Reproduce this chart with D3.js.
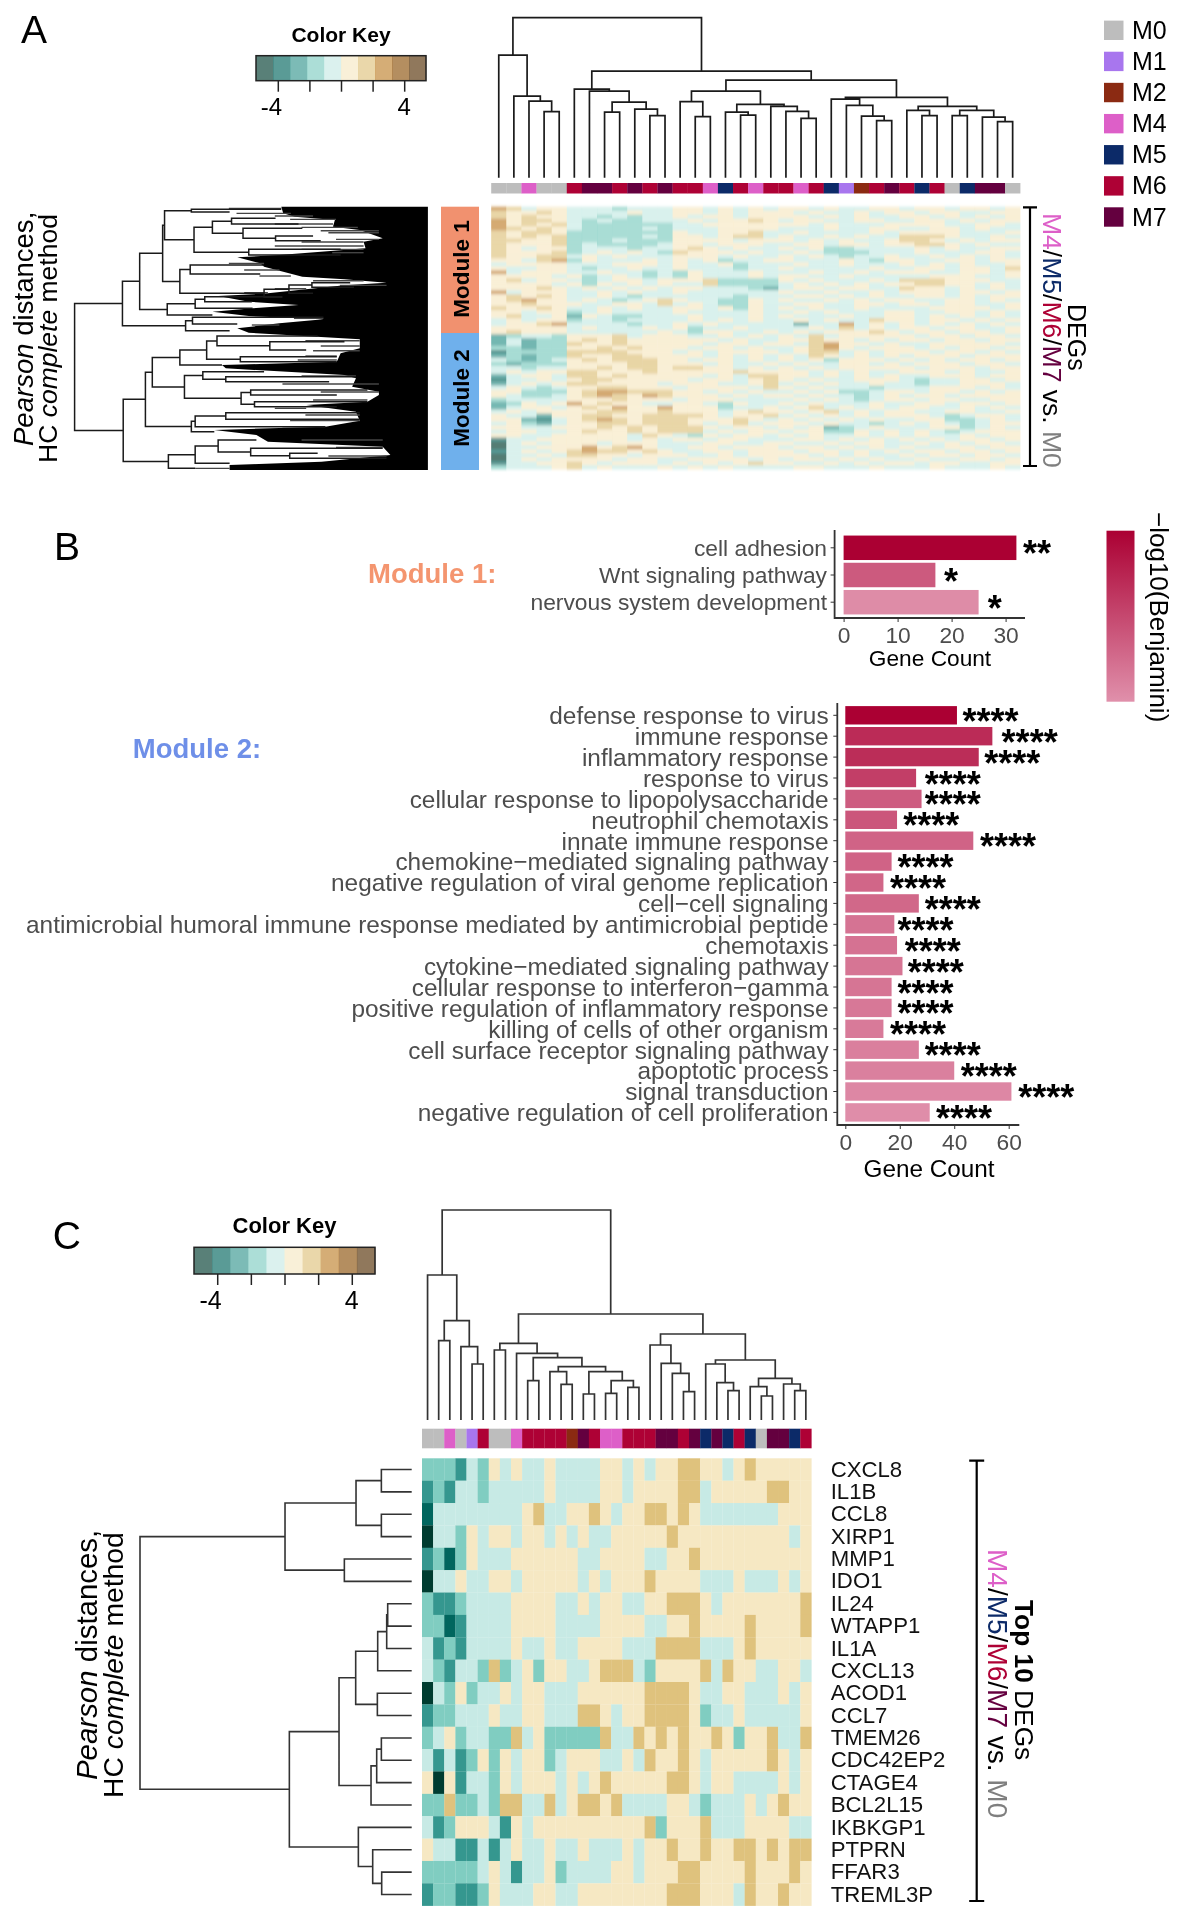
<!DOCTYPE html>
<html>
<head>
<meta charset="utf-8">
<script src="https://cdn.jsdelivr.net/npm/d3@7"></script>
<style>
body { margin: 0; background: white; }
svg { filter: blur(0.45px); }
text { font-family: "Liberation Sans", Arial, sans-serif; white-space: pre; }
</style>
</head>
<body>
<div id="chart"></div>
<script>
// ---- data ----
const brbg = ["#003c30", "#01665e", "#35978f", "#80cdc1", "#c7eae5", "#f6e8c3", "#dfc27d", "#bf812d", "#8c510a", "#543005"];
const legendNames = ["M0", "M1", "M2", "M4", "M5", "M6", "M7"];
const legendColors = ["#bdbdbd", "#a876ee", "#8b2a12", "#dd5fc8", "#0c2a68", "#ae0135", "#64003f"];

const colTypesA = ["M0","M0","M4","M0","M0","M6","M7","M7","M6","M7","M6","M7","M6","M6","M4","M5","M6","M4","M6","M6","M4","M6","M5","M1","M2","M6","M7","M6","M5","M6","M0","M5","M7","M7","M0"];
const colTypesC = ["M0","M0","M4","M0","M1","M6","M0","M0","M4","M6","M6","M6","M6","M2","M7","M6","M4","M4","M6","M6","M6","M7","M7","M6","M7","M5","M7","M5","M6","M5","M0","M7","M7","M5","M6"];

// dendrograms: [height, left, right], a number is a column/row index
const colTreeA = [480,
  [368, 0, [245, 1, [230, 2, [198, 3, 4]]]],
  [320,
    [266, 5, [260, 6, [227, [197, 7, 8], [206, 9, [186, 10, 11]]]]],
    [293,
      [260,
        [228, 12, [183, 13, 14]],
        [220, [197, 15, [188, 16, 17]], [214, 18, [199, 19, [178, 20, 21]]]]],
      [241,
        [236, 22, [217, 23, [185, 24, [171, 25, 26]]]],
        [214, [202, 27, [186, 28, 29]], [202, [186, 30, 31], [182, 32, [168, 33, 34]]]]]]]];

const colTreeC = [630,
  [435, 0, [298, [238, 1, 2], [220, 3, [168, 4, 5]]]],
  [318,
    [230, [210, 6, 7],
      [200, 8, [187, [118, 9, 10],
        [160, [145, 11, [107, 12, 13]],
          [145, [78, 14, 15], [118, [80, 16, 17], [98, 18, 19]]]]]]],
    [258,
      [225, 20, [170, 21, [140, 22, [85, 23, 24]]]],
      [180, [168, 25, [112, 26, [88, 27, 28]]],
        [125, [100, 29, [72, 30, 31]], [108, 32, [88, 33, 34]]]]]]];

const rowTreeC = [815,
  [380, [167, [91, 0, 1], [91, 2, 3]], [202, 4, 5]],
  [367,
    [218,
      [168, [102, [75, [72, 6, 7], 8], 9], [103, 10, 11]],
      [122, [105, [91, 12, 13], 14], 15]],
    [160, 16, [117, 17, [90, 18, 19]]]]];

// module-level row tree of panel A; a two-number leaf is [row position, height where it enters the dense part]
const rowTreeA = [923,
  [798,
    [753,
      [693,
        [688,
          [618, [8, 383], [16, 518]],
          [611,
            [563, [513, [35, 398], [52, 338]], [483, [65, 328], [398, [88, 300], [102, 280]]]],
            [468, [128, 228], [145, 228]]]],
        [648,
          [621, [175, 428], [202, 438]],
          [428, [363, [303, [228, 203], [242, 193]], [260, 300]], [272, 380]]]],
      [681,
        [608, [583, [270, 380], [285, 460]], [305, 458]],
        [325, 563]]],
    [633,
      [615, [332, 273], [352, 498]],
      [372, 518]]],
  [796,
    [738,
      [720,
        [648,
          [578,
            [551, [388, 288], [413, [405, 218], [430, 318]]],
            [490, [450, 238], [465, 238]]],
          [475, 538]],
        [636,
          [588, [495, 428], [528, [510, 188], [525, 258]]],
          [488, [463, [550, 158], [565, 238]], [453, [585, 158], [600, 238]]]]],
      [618,
        [608, [528, [618, 178], [638, 178]], [660, 268]],
        [675, 558]]],
    [678,
      [608,
        [548, [700, 448], [463, [725, 118], [361, [740, 288], [755, 108]]]],
        [770, 518]],
      [785, 608]]]];

// outline of the part of the row tree of panel A that prints solid: [row position, height]
const rowSolidA = [[0,383],[20,378],[30,348],[40,243],[60,248],[70,178],[95,118],[105,168],[125,163],[145,388],[152,498],[170,438],[180,428],[195,378],[210,328],[218,218],[228,108],[236,218],[250,338],[260,418],[268,548],[285,468],[295,338],[305,458],[315,563],[328,468],[338,273],[350,388],[365,498],[378,468],[398,178],[425,178],[440,228],[465,238],[475,538],[485,528],[505,218],[515,188],[540,198],[555,128],[565,128],[585,158],[595,318],[615,188],[642,178],[660,268],[670,558],[685,448],[705,418],[720,118],[745,98],[765,278],[775,518],[790,518]];
// thin grey branches just outside the solid part: [row position, height from, height to]
const rowStreaksA = [[5,520,383],[20,500,358],[28,400,300],[38,360,240],[52,400,248],[62,330,183],[72,280,128],[78,260,128],[98,240,128],[106,330,168],[118,400,168],[128,330,168],[138,250,168],[170,520,428],[190,480,388],[208,440,358],[222,300,168],[236,230,108],[246,400,318],[258,480,418],[335,350,273],[355,460,388],[402,320,178],[418,280,178],[432,300,178],[448,320,238],[460,340,238],[508,330,188],[532,380,128],[556,280,128],[580,300,158],[605,400,318],[625,320,178],[642,360,178],[660,380,268],[700,330,118],[722,240,118],[748,260,108],[785,608,518]];

// panel A matrix, colour bin per row band and column
const heatA = [
"76455 4443444 5545454 55454455 45545545",
"65565 4444544 5545455 54544545 54554455",
"65655 4434344 5455455 55454544 55454545",
"75665 4343344 4545565 45544554 45545455",
"75656 4333333 4455555 55454445 55544554",
"76565 4333343 4445555 44454455 44554544",
"65665 3333333 5445564 45444454 55554445",
"65656 3333343 5545664 54454544 66654454",
"66556 3334333 5555455 54545445 66545455",
"65556 3433334 5545554 45545545 56654544",
"65455 3444344 5654544 54533444 45454455",
"65556 3454543 6555454 45433344 45444554",
"65566 4545444 5554544 54543445 44545454",
"55467 3544454 5453445 54445435 54455455",
"45555 4445554 5445344 45445444 54545445",
"54455 4344544 5444344 54444454 45545546",
"74555 4454434 3544454 44544545 55445545",
"55554 5345434 3544454 55445444 44555445",
"56455 4345545 5563333 54544454 66655544",
"55554 5354545 4463333 45454545 56655454",
"55565 4545454 5544432 45545544 65545454",
"74555 4454544 5444444 54454454 55545545",
"56565 4454344 4444344 45545454 45545455",
"56755 4543456 5443354 54454545 54455454",
"55655 5445546 4543354 45544554 55455445",
"65565 4454544 5545354 54544544 44555545",
"55455 3454444 5444454 45454445 54455454",
"56445 2543344 4544454 54445445 54545454",
"45455 3443444 4545454 45454465 54554545",
"45567 4444344 5454444 42447454 54545454",
"55555 4544454 5344544 44546454 55455445",
"56555 4444445 4355445 45455565 45545545",
"23443 5556455 5445454 54645555 54554554",
"24233 5656555 5554544 55655454 55455455",
"24233 6556555 5545545 54675545 44555554",
"33233 5565655 5455454 45675455 54545545",
"13333 6666555 4545555 45664545 55455454",
"23233 6556655 5545454 54654545 45554555",
"43234 5656665 5455454 54535554 54545545",
"32333 5555665 5545445 45445545 45554554",
"44344 5565665 6655454 54545555 54555455",
"45455 6655565 5555655 55454544 55545445",
"24554 6656555 5545466 55454545 44555455",
"14454 5665555 5455456 54544555 43445545",
"24545 6655554 5554456 45454454 43445554",
"45434 5566555 4555546 54544434 44555454",
"55333 5677666 5545454 45453345 54554545",
"54334 5676576 5554545 54544345 45545555",
"34444 5556555 4555444 45454345 54554455",
"23545 7565544 5543544 54544454 45545545",
"24554 5657557 5553445 45645454 55445454",
"45455 5566556 5554565 54564545 54455445",
"54425 5665566 6654556 45454545 55434554",
"55214 5676566 6555654 54545454 45533454",
"45324 5566566 6545645 55454434 54543455",
"55445 5565656 6654554 54523454 44553454",
"45544 5655656 6645455 45533545 45434555",
"55445 5555465 4354554 54544545 45445455",
"14455 5555454 5545544 45545454 54545545",
"04545 5545554 4455445 54454554 45454554",
"04455 5756754 4554555 45545454 54455455",
"14545 6766565 4455455 54554545 45545545",
"04454 6655455 5445455 55454544 54554554",
"04545 5554554 4555545 45545454 45445545",
"14455 6545554 5454565 54454545 54554455",
"34445 6454445 4545444 45544454 44544454"
];

// panel C matrix, one string per gene
const geneNames = ["CXCL8","IL1B","CCL8","XIRP1","MMP1","IDO1","IL24","WTAPP1","IL1A","CXCL13","ACOD1","CCL7","TMEM26","CDC42EP2","CTAGE4","BCL2L15","IKBKGP1","PTPRN","FFAR3","TREML3P"];
const heatC = [
"3332 4354 5445 4444 5545 4556 6554 5655 555",
"2324 4344 4445 4444 5545 5556 6455 5556 655",
"1444 4444 4564 4556 5455 6656 5444 4444 555",
"0443 5455 4554 5454 4555 5565 5555 5555 545",
"2313 5444 5555 5544 5555 4455 6555 5555 555",
"0445 4455 4555 5545 4555 6555 5444 5444 545",
"3223 4444 5555 4454 5544 5566 6545 5555 556",
"3312 4444 5555 4444 5555 4455 6555 5655 556",
"4232 4444 5445 4455 5544 4666 6444 5655 555",
"4324 4363 4535 5445 6664 3555 5646 5544 554",
"0435 3445 4554 4455 5555 6666 5445 5444 545",
"2334 4454 4554 4466 5455 6666 5344 5444 445",
"3453 4433 6453 3333 6446 5656 5565 3556 446",
"4242 3535 4553 4555 4454 6556 5455 5556 545",
"5052 4435 4555 4545 6555 5566 5455 4444 545",
"3363 3436 6446 4566 5644 4455 4344 4545 655",
"4235 5542 5455 5555 5555 6355 5644 4555 544",
"5442 2424 5445 4454 4454 5565 5655 6656 566",
"3333 3454 2445 3444 4554 5556 6555 5655 565",
"2332 2354 4455 4455 5555 5566 6555 4655 655"
];

const rowLabelsM1 = ["cell adhesion", "Wnt signaling pathway", "nervous system development"];
const countsM1 = [32, 17, 25];
const logPM1 = [1, 0.375, 0.03];
const starsM1 = ["**", "*", "*"];
const starAtM1 = [33.2, 18.6, 26.7];

const rowLabelsM2 = ["defense response to virus", "immune response", "inflammatory response", "response to virus",
  "cellular response to lipopolysaccharide", "neutrophil chemotaxis", "innate immune response",
  "chemokine−mediated signaling pathway", "negative regulation of viral genome replication", "cell−cell signaling",
  "antimicrobial humoral immune response mediated by antimicrobial peptide", "chemotaxis",
  "cytokine−mediated signaling pathway", "cellular response to interferon−gamma",
  "positive regulation of inflammatory response", "killing of cells of other organism",
  "cell surface receptor signaling pathway", "apoptotic process", "signal transduction",
  "negative regulation of cell proliferation"];
const countsM2 = [41, 54, 49, 26, 28, 19, 47, 17, 14, 27, 18, 19, 21, 17, 17, 14, 27, 40, 61, 31];
const logPM2 = [1, 0.7, 0.69, 0.57, 0.36, 0.4, 0.31, 0.31, 0.29, 0.28, 0.2, 0.21, 0.19, 0.19, 0.17, 0.15, 0.12, 0.11, 0.06, 0.02];
const starAtM2 = [43, 57.4, 51, 29.2, 29.2, 21.3, 49.5, 19.2, 16.4, 29.2, 19.2, 21.8, 22.9, 19.2, 19.2, 16.4, 29.2, 42.4, 63.5, 33.3];

const degTitle = ["M4", "/", "M5", "/", "M6", "/", "M7", " vs. ", "M0"];

// ---- helpers ----
const svg = d3.select("#chart").append("svg").attr("width", 1184).attr("height", 1920);

const moduleColor = d3.scaleOrdinal().domain(legendNames).range(legendColors);

function addText(x, y, str, size, opts) {
    opts = opts || {};
    return svg.append("text")
        .attr("transform", `translate(${x},${y}) rotate(${opts.rotate || 0})`)
        .attr("font-size", size)
        .attr("font-weight", opts.weight || "normal")
        .attr("text-anchor", opts.anchor || "start")
        .attr("fill", opts.fill || "black")
        .text(str);
}

// walk a nested tree and return the drawn path, pos gives the leaf position, pt turns (position, height) into x,y
function treePath(tree, pos, pt) {
    const path = d3.path();
    function walk(node) {
        if (typeof node === "number") return { p: pos(node), h: 0 };
        if (node.length == 2) return { p: pos(node[0]), h: node[1] };
        const a = walk(node[1]);
        const b = walk(node[2]);
        const h = node[0];
        const p1 = pt(a.p, a.h), p2 = pt(a.p, h), p3 = pt(b.p, h), p4 = pt(b.p, b.h);
        path.moveTo(p1[0], p1[1]);
        path.lineTo(p2[0], p2[1]);
        path.lineTo(p3[0], p3[1]);
        path.lineTo(p4[0], p4[1]);
        return { p: (a.p + b.p) / 2, h: h };
    }
    walk(tree);
    return path.toString();
}

function colorKey(x0, x1, y0, y1, tickLen, size, labelY, titleY, titleSize) {
    const centre = (x0 + x1) / 2;
    const unit = (x1 - x0) / 10.76;
    const value = d3.scaleLinear().domain([-5.38, 5.38]).range([x0, x1]);
    const seg = d3.scaleBand().domain(d3.range(10)).range([x0, x1]);
    svg.append("g").selectAll("rect").data(brbg).enter().append("rect")
        .attr("x", (d, i) => seg(i))
        .attr("y", y0)
        .attr("width", seg.bandwidth() + 0.3)
        .attr("height", y1 - y0)
        .attr("fill", d => d)
        .attr("fill-opacity", 0.65);
    svg.append("rect").attr("x", x0).attr("y", y0).attr("width", x1 - x0).attr("height", y1 - y0)
        .attr("fill", "none").attr("stroke", "#222").attr("stroke-width", 1.5);
    const axis = d3.axisBottom(value).tickValues([-4, -2, 0, 2, 4]).tickSize(tickLen).tickFormat("");
    const g = svg.append("g").attr("transform", `translate(0,${y1})`).call(axis);
    g.select(".domain").remove();
    g.selectAll("line").attr("stroke", "#222").attr("stroke-width", 1.5);
    addText(value(-4) - unit * 0.4, labelY, "-4", size, { anchor: "middle" });
    addText(value(4), labelY, "4", size, { anchor: "middle" });
    addText(centre, titleY, "Color Key", titleSize, { anchor: "middle", weight: "bold" });
}

function annotation(types, x, y0, y1) {
    svg.append("g").selectAll("rect").data(types).enter().append("rect")
        .attr("x", (d, i) => x(i))
        .attr("y", y0)
        .attr("width", x.bandwidth() + 0.2)
        .attr("height", y1 - y0)
        .attr("fill", d => moduleColor(d));
}

function titleParts(x, y, size) {
    const t = svg.append("text")
        .attr("transform", `translate(${x},${y}) rotate(90)`)
        .attr("font-size", size);
    degTitle.forEach(function(p) {
        let col = "black";
        if (p == "M0") col = "#7f7f7f";
        else if (legendNames.includes(p)) col = moduleColor(p);
        t.append("tspan").attr("fill", col).text(p);
    });
}

function axisLabel(x, y, size) {
    const t1 = svg.append("text").attr("transform", `translate(${x},${y[0]}) rotate(-90)`).attr("font-size", size * 1.04);
    t1.append("tspan").attr("font-style", "italic").text("Pearson");
    t1.append("tspan").text(" distances,");
    const t2 = svg.append("text").attr("transform", `translate(${x + size * 0.93},${y[1]}) rotate(-90)`).attr("font-size", size);
    t2.append("tspan").text("HC ");
    t2.append("tspan").attr("font-style", "italic").text("complete");
    t2.append("tspan").text(" method");
}

function bracket(x, y0, y1, cap) {
    svg.append("path")
        .attr("d", `M${x - cap},${y0}H${x + cap}M${x},${y0}V${y1}M${x - cap},${y1}H${x + cap}`)
        .attr("fill", "none").attr("stroke", "black").attr("stroke-width", 2.2);
}

// soft vertical smear for the thin row bands of panel A
svg.append("defs").append("filter").attr("id", "rowsmear")
    .attr("x", "-2%").attr("y", "-2%").attr("width", "104%").attr("height", "104%")
    .append("feGaussianBlur").attr("stdDeviation", "0.6 1.5");

// ---- panel A ----
addText(21, 43, "A", 39);
colorKey(256, 426, 55.7, 80.7, 11, 24, 115, 41.5, 21);

const colA = d3.scaleBand().domain(d3.range(35)).range([491.2, 1020.2]);
const heightA = d3.scaleLinear().domain([0, 480]).range([177.7, 17.7]);
svg.append("path")
    .attr("d", treePath(colTreeA, i => colA(i) + colA.bandwidth() / 2, (p, h) => [p, heightA(h)]))
    .attr("fill", "none").attr("stroke", "#1a1a1a").attr("stroke-width", 1.7);
annotation(colTypesA, colA, 183, 193.5);

const rowA = d3.scaleLinear().domain([0, 790]).range([206.7, 470]);
const distA = d3.scaleLinear().domain([0, 923]).range([427.9, 74.6]);
const solidArea = d3.area()
    .x0(d => distA(d[1]))
    .x1(distA(0))
    .y(d => rowA(d[0]));
svg.append("path").attr("d", solidArea(rowSolidA)).attr("fill", "black");
svg.append("g").selectAll("line").data(rowStreaksA).enter().append("line")
    .attr("x1", d => distA(d[1]))
    .attr("x2", d => distA(d[2]))
    .attr("y1", d => rowA(d[0]))
    .attr("y2", d => rowA(d[0]))
    .attr("stroke", "#444")
    .attr("stroke-width", 1.4);
svg.append("path")
    .attr("d", treePath(rowTreeA, r => r, (p, h) => [distA(h), rowA(p)]))
    .attr("fill", "none").attr("stroke", "#1a1a1a").attr("stroke-width", 1.5);

svg.append("rect").attr("x", 441).attr("y", 206.7).attr("width", 38).attr("height", 126.3).attr("fill", "#f1916f");
svg.append("rect").attr("x", 441).attr("y", 333).attr("width", 38).attr("height", 137).attr("fill", "#6fb0ec");
addText(469, 269, "Module 1", 22.5, { rotate: -90, weight: "bold", anchor: "middle" });
addText(469, 398, "Module 2", 22.5, { rotate: -90, weight: "bold", anchor: "middle" });
axisLabel(32.5, [446, 463], 26.5);

const bandA = d3.scaleBand().domain(d3.range(heatA.length)).range([206.7, 469.3]);
const rowsA = svg.append("g").attr("filter", "url(#rowsmear)");
heatA.forEach(function(row, r) {
    const cells = row.replace(/ /g, "").split("").map(Number);
    rowsA.append("g").selectAll("rect").data(cells).enter().append("rect")
        .attr("x", (d, i) => colA(i))
        .attr("y", bandA(r))
        .attr("width", colA.bandwidth() + 0.2)
        .attr("height", bandA.bandwidth() + 0.2)
        .attr("fill", d => brbg[d])
        .attr("fill-opacity", 0.68);
});
bracket(1030, 207.3, 466, 7);
titleParts(1043, 213, 26.5);
addText(1068, 304, "DEGs", 25, { rotate: 90 });

// legend
const legendY = d3.scalePoint().domain(legendNames).range([30.3, 217]);
legendNames.forEach(function(n) {
    svg.append("rect").attr("x", 1104).attr("y", legendY(n) - 9.7).attr("width", 19.5).attr("height", 19.4).attr("fill", moduleColor(n));
    addText(1132, legendY(n) + 8.5, n, 25);
});

// ---- panel B ----
addText(54, 560, "B", 39);
addText(368, 583, "Module 1:", 27.5, { weight: "bold", fill: "#f4956f" });
addText(132.8, 758, "Module 2:", 27.5, { weight: "bold", fill: "#6e8fe8" });

const barColor = d3.scaleLinear().domain([0, 1]).range(["#e090ab", "#ab0033"]);

function barPanel(labels, counts, logP, stars, starAt, cfg) {
    const x = d3.scaleLinear().domain(cfg.domain).range([cfg.x0, cfg.x1]);
    const y = d3.scaleBand().domain(labels).range(cfg.band).paddingInner(cfg.inner).paddingOuter(cfg.inner / 2);
    svg.append("g").selectAll("rect").data(counts).enter().append("rect")
        .attr("x", x(0))
        .attr("y", (d, i) => y(labels[i]))
        .attr("width", d => x(d) - x(0))
        .attr("height", y.bandwidth())
        .attr("fill", (d, i) => barColor(logP[i]));
    svg.append("g").selectAll("text").data(stars).enter().append("text")
        .attr("x", (d, i) => x(starAt[i]))
        .attr("y", (d, i) => y(labels[i]) + y.bandwidth() / 2 + 18.5)
        .attr("font-size", 36)
        .attr("font-weight", "bold")
        .text(d => d);

    const left = svg.append("g").attr("transform", `translate(${cfg.axisX},0)`)
        .call(d3.axisLeft(y).tickSize(4).tickPadding(cfg.labelPad));
    left.select(".domain").remove();
    left.selectAll("line").attr("stroke", "#333");
    left.selectAll("text").attr("y", cfg.labelShift).attr("font-size", cfg.labelSize).attr("fill", "#4d4d4d").style("font-family", '"Liberation Sans"');

    const bottom = svg.append("g").attr("transform", `translate(0,${cfg.axisY})`)
        .call(d3.axisBottom(x).tickValues(cfg.ticks).tickSize(4).tickPadding(5));
    bottom.select(".domain").remove();
    bottom.selectAll("line").attr("stroke", "#333");
    bottom.selectAll("text").attr("font-size", 22.8).attr("fill", "#4d4d4d").style("font-family", '"Liberation Sans"');

    svg.append("path")
        .attr("d", `M${cfg.axisX},${cfg.axisTop}V${cfg.axisY}H${cfg.axisRight}`)
        .attr("fill", "none").attr("stroke", "#333").attr("stroke-width", 1.8);
    addText(cfg.titleX, cfg.titleY, "Gene Count", cfg.titleSize, { anchor: "middle" });
}

barPanel(rowLabelsM1, countsM1, logPM1, starsM1, starAtM1, {
    domain: [0, 32], x0: 843.6, x1: 1016.4, band: [534.2, 615.8], inner: 0.1,
    axisX: 834.6, axisY: 618, axisTop: 530, axisRight: 1025, labelPad: 3.6, labelSize: 22.8, labelShift: 0.5,
    ticks: [0, 10, 20, 30], titleX: 930, titleY: 666, titleSize: 22.7
});
barPanel(rowLabelsM2, countsM2, logPM2, countsM2.map(() => "****"), starAtM2, {
    domain: [0, 60], x0: 845.3, x1: 1008.7, band: [704.85, 1122.85], inner: 0.12,
    axisX: 837.3, axisY: 1125, axisTop: 703, axisRight: 1019.3, labelPad: 4.7, labelSize: 24.4, labelShift: 1,
    ticks: [0, 20, 40, 60], titleX: 929, titleY: 1177, titleSize: 24.3
});

// gradient legend for the bars
const grad = svg.select("defs").append("linearGradient").attr("id", "logp")
    .attr("x1", 0).attr("x2", 0).attr("y1", 0).attr("y2", 1);
grad.append("stop").attr("offset", "0%").attr("stop-color", barColor(1));
grad.append("stop").attr("offset", "100%").attr("stop-color", barColor(0));
svg.append("rect").attr("x", 1106.5).attr("y", 530.7).attr("width", 28).attr("height", 171).attr("fill", "url(#logp)");
addText(1150, 512, "−log10(Benjamini)", 26, { rotate: 90 });

// ---- panel C ----
addText(52.7, 1249, "C", 39);
colorKey(194, 375, 1247.3, 1274, 11, 25, 1309, 1233, 22);

const colC = d3.scaleBand().domain(d3.range(35)).range([422, 811.4]);
const heightC = d3.scaleLinear().domain([0, 630]).range([1420, 1210]);
svg.append("path")
    .attr("d", treePath(colTreeC, i => colC(i) + colC.bandwidth() / 2, (p, h) => [p, heightC(h)]))
    .attr("fill", "none").attr("stroke", "#333").attr("stroke-width", 1.7);
annotation(colTypesC, colC, 1428.7, 1448.3);

const rowC = d3.scaleBand().domain(geneNames).range([1458.3, 1905.7]);
const distC = d3.scaleLinear().domain([0, 815]).range([411.7, 140]);
svg.append("path")
    .attr("d", treePath(rowTreeC, i => rowC(geneNames[i]) + rowC.bandwidth() / 2, (p, h) => [distC(h), p]))
    .attr("fill", "none").attr("stroke", "#333").attr("stroke-width", 1.6);

const rowsC = svg.append("g");
heatC.forEach(function(row, r) {
    const cells = row.replace(/ /g, "").split("").map(Number);
    rowsC.append("g").selectAll("rect").data(cells).enter().append("rect")
        .attr("x", (d, i) => colC(i))
        .attr("y", rowC(geneNames[r]))
        .attr("width", colC.bandwidth() + 0.2)
        .attr("height", rowC.bandwidth() + 0.2)
        .attr("fill", d => brbg[d]);
});

const geneAxis = svg.append("g").attr("transform", "translate(825,0)")
    .call(d3.axisRight(rowC).tickSize(0).tickPadding(5.7));
geneAxis.select(".domain").remove();
geneAxis.selectAll("text").attr("font-size", 22.2).attr("fill", "#111").style("font-family", '"Liberation Sans"');

bracket(976.7, 1460.7, 1901, 7.5);
titleParts(988.3, 1549, 28);
const top10 = svg.append("text").attr("transform", "translate(1015,1600) rotate(90)").attr("font-size", 26.3);
top10.append("tspan").attr("font-weight", "bold").text("Top 10");
top10.append("tspan").text(" DEGs");
axisLabel(96.7, [1780, 1798], 28.3);
</script>
</body>
</html>
